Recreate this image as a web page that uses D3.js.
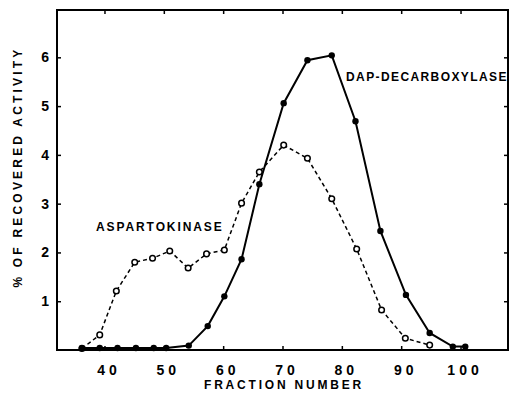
<!DOCTYPE html>
<html>
<head>
<meta charset="utf-8">
<script src="https://cdn.jsdelivr.net/npm/d3@7"></script>
<style>
  body { margin: 0; background: #fff; }
  svg text { font-family: "Liberation Sans", Arial, sans-serif; font-weight: bold; fill: #000; }
</style>
</head>
<body>
<svg id="chart" width="516" height="399"></svg>
<script>
// fraction numbers and % of recovered activity
const dapFractions = [36.2, 39.2, 42.2, 45.3, 48.3, 50.4, 54.2, 57.4, 60.2, 63.1, 66.1, 70.2, 74.2, 78.3, 82.3, 86.5, 90.8, 94.8, 98.7, 100.8];
const dapActivity  = [0.04, 0.04, 0.04, 0.04, 0.04, 0.04, 0.09, 0.49, 1.10, 1.86, 3.40, 5.06, 5.94, 6.04, 4.69, 2.44, 1.13, 0.35, 0.07, 0.07];

const aspFractions = [36.2, 39.2, 42.0, 45.1, 48.1, 51.0, 54.1, 57.2, 60.2, 63.1, 66.1, 70.2, 74.2, 78.3, 82.5, 86.7, 90.7, 94.8];
const aspActivity  = [0.03, 0.31, 1.21, 1.80, 1.88, 2.03, 1.68, 1.97, 2.05, 3.01, 3.65, 4.20, 3.93, 3.10, 2.07, 0.82, 0.24, 0.10];

const xTicks = [40, 50, 60, 70, 80, 90, 100];
const yTicks = [1, 2, 3, 4, 5, 6];

const plotL = 57, plotR = 508, plotT = 10, plotB = 350;

const svg = d3.select("#chart");

const x = d3.scaleLinear().domain([32, 108]).range([plotL, plotR]);
const y = d3.scaleLinear().domain([0, 6.97]).range([plotB, plotT]);

// frame
svg.append("rect")
  .attr("x", plotL).attr("y", plotT)
  .attr("width", plotR - plotL).attr("height", plotB - plotT)
  .attr("fill", "none").attr("stroke", "#000").attr("stroke-width", 2);

// axes with inward ticks
const axB = svg.append("g").attr("transform", `translate(0,${plotB})`)
  .call(d3.axisBottom(x).tickValues(xTicks).tickSize(-4).tickPadding(15).tickFormat(d3.format("d")));
const axT = svg.append("g").attr("transform", `translate(0,${plotT})`)
  .call(d3.axisTop(x).tickValues(xTicks).tickSize(-4).tickFormat(""));
const axL = svg.append("g").attr("transform", `translate(${plotL},0)`)
  .call(d3.axisLeft(y).tickValues(yTicks).tickSize(-4).tickPadding(8).tickFormat(d3.format("d")));
const axR = svg.append("g").attr("transform", `translate(${plotR},0)`)
  .call(d3.axisRight(y).tickValues(yTicks).tickSize(-4).tickFormat(""));

[axB, axT, axL, axR].forEach(g => {
  g.select(".domain").remove();
  g.selectAll(".tick line").attr("stroke", "#000").attr("stroke-width", 1.5);
});
axB.selectAll(".tick text")
  .attr("font-size", 14).attr("letter-spacing", 4).attr("dx", 4)
  .style("font-family", '"Liberation Sans", Arial, sans-serif').style("font-weight", "bold");
axL.selectAll(".tick text")
  .attr("font-size", 14)
  .style("font-family", '"Liberation Sans", Arial, sans-serif').style("font-weight", "bold");

// axis titles
svg.append("text")
  .attr("x", 284).attr("y", 389)
  .attr("text-anchor", "middle")
  .attr("font-size", 12).attr("letter-spacing", 2.8)
  .text("FRACTION NUMBER");

svg.append("text")
  .attr("transform", "translate(22,167) rotate(-90)")
  .attr("text-anchor", "middle")
  .attr("font-size", 12).attr("letter-spacing", 3.2)
  .text("% OF RECOVERED ACTIVITY");

// series labels
svg.append("text")
  .attr("x", 346).attr("y", 81)
  .attr("font-size", 12).attr("letter-spacing", 1.4)
  .text("DAP-DECARBOXYLASE");

svg.append("text")
  .attr("x", 96).attr("y", 231)
  .attr("font-size", 12).attr("letter-spacing", 1.9)
  .text("ASPARTOKINASE");

const line = d3.line().x(d => x(d[0])).y(d => y(d[1]));

// aspartokinase: dashed, open circles
const asp = aspFractions.map((f, i) => [f, aspActivity[i]]);
svg.append("path")
  .datum(asp)
  .attr("d", line)
  .attr("fill", "none").attr("stroke", "#000")
  .attr("stroke-width", 1.5).attr("stroke-dasharray", "4,3");
svg.append("g").selectAll("circle")
  .data(asp).enter().append("circle")
  .attr("cx", d => x(d[0])).attr("cy", d => y(d[1]))
  .attr("r", 2.8)
  .attr("fill", "#fff").attr("stroke", "#000").attr("stroke-width", 1.5);

// DAP-decarboxylase: solid, filled circles
const dap = dapFractions.map((f, i) => [f, dapActivity[i]]);
svg.append("path")
  .datum(dap)
  .attr("d", line)
  .attr("fill", "none").attr("stroke", "#000").attr("stroke-width", 2);
svg.append("g").selectAll("circle")
  .data(dap).enter().append("circle")
  .attr("cx", d => x(d[0])).attr("cy", d => y(d[1]))
  .attr("r", 3.2)
  .attr("fill", "#000");
</script>
</body>
</html>
